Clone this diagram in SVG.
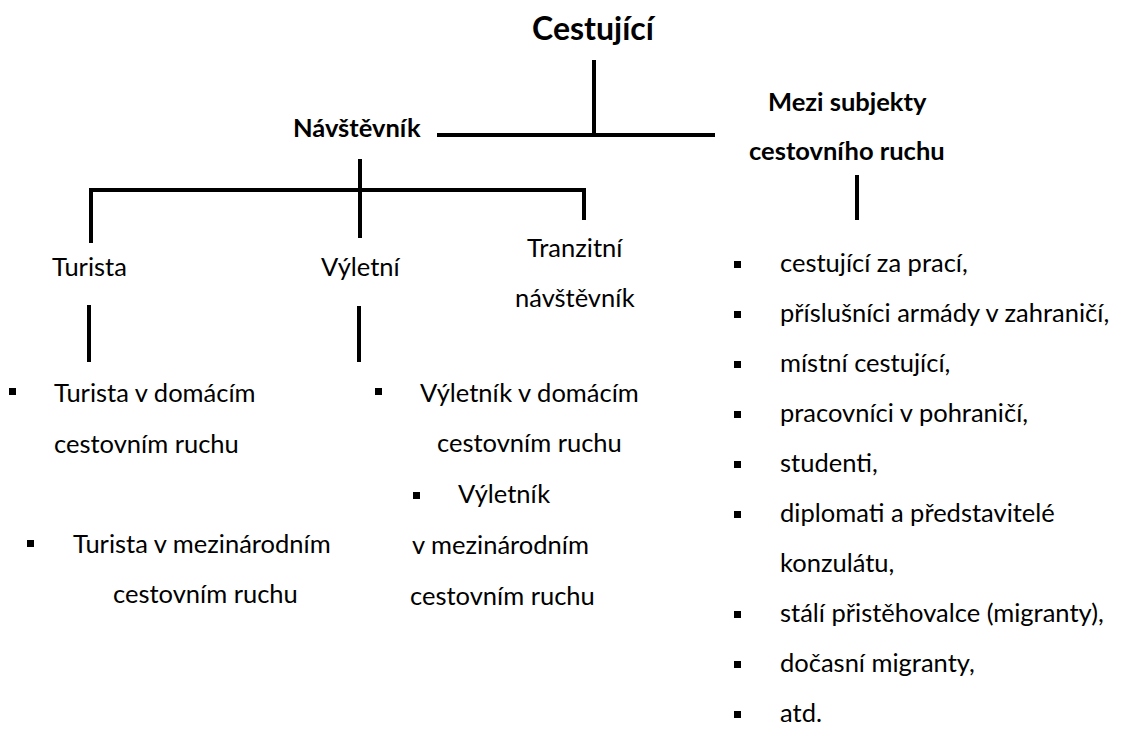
<svg xmlns="http://www.w3.org/2000/svg" width="1122" height="736" viewBox="0 0 1122 736">
<style>
text{font-family:Lato,"Liberation Sans",sans-serif;fill:#000;font-size:25.5px}
.b{font-weight:bold}
.t{font-size:32px;font-weight:bold}
.ln{stroke:#000;stroke-width:4;fill:none;stroke-linecap:butt;stroke-linejoin:miter}
.bl{fill:#000}
</style>
<rect width="1122" height="736" fill="#fff"/>
<g id="connectors">
<line class="ln" x1="594" y1="60" x2="594" y2="135"/>
<line class="ln" x1="437" y1="135" x2="715" y2="135"/>
<line class="ln" x1="360" y1="159" x2="360" y2="238"/>
<path class="ln" d="M91,243 V190 H584 V220"/>
<line class="ln" x1="89" y1="305" x2="89" y2="362"/>
<line class="ln" x1="359" y1="306" x2="359" y2="362"/>
<line class="ln" x1="857" y1="175" x2="857" y2="220"/>
</g>
<g id="cestujici"><text class="t" x="593" y="40" text-anchor="middle">Cestující</text></g>
<g id="navstevnik"><text class="b" x="293" y="137">Návštěvník</text></g>
<g id="mezi-subjekty"><text class="b" x="768" y="111">Mezi subjekty</text><text class="b" x="749" y="160">cestovního ruchu</text></g>
<g id="turista"><text x="52" y="276">Turista</text></g>
<g id="vyletni"><text x="321" y="276">Výletní</text></g>
<g id="tranzitni"><text x="527" y="257">Tranzitní</text><text x="515" y="307">návštěvník</text></g>
<g id="turista-list">
<rect class="bl" x="9" y="388" width="7" height="7"/>
<text x="54" y="402">Turista v domácím</text>
<text x="54" y="453">cestovním ruchu</text>
<rect class="bl" x="27" y="540" width="7" height="7"/>
<text x="73" y="553">Turista v mezinárodním</text>
<text x="113" y="603">cestovním ruchu</text>
</g>
<g id="vyletnik-list">
<rect class="bl" x="375" y="388" width="7" height="7"/>
<text x="420" y="402">Výletník v domácím</text>
<text x="437" y="452">cestovním ruchu</text>
<rect class="bl" x="413" y="492" width="7" height="7"/>
<text x="458" y="503">Výletník</text>
<text x="412" y="554">v mezinárodním</text>
<text x="410" y="605">cestovním ruchu</text>
</g>
<g id="mezi-list">
<rect class="bl" x="734" y="261" width="7" height="7"/><text x="780" y="272">cestující za prací,</text>
<rect class="bl" x="734" y="311" width="7" height="7"/><text x="780" y="322">příslušníci armády v zahraničí,</text>
<rect class="bl" x="734" y="361" width="7" height="7"/><text x="780" y="372">místní cestující,</text>
<rect class="bl" x="734" y="411" width="7" height="7"/><text x="780" y="422">pracovníci v pohraničí,</text>
<rect class="bl" x="734" y="461" width="7" height="7"/><text x="780" y="472">studenti,</text>
<rect class="bl" x="734" y="511" width="7" height="7"/><text x="780" y="522">diplomati a představitelé</text>
<text x="780" y="572">konzulátu,</text>
<rect class="bl" x="734" y="611" width="7" height="7"/><text x="780" y="622">stálí přistěhovalce (migranty),</text>
<rect class="bl" x="734" y="661" width="7" height="7"/><text x="780" y="672">dočasní migranty,</text>
<rect class="bl" x="734" y="711" width="7" height="7"/><text x="780" y="722">atd.</text>
</g>
</svg>
